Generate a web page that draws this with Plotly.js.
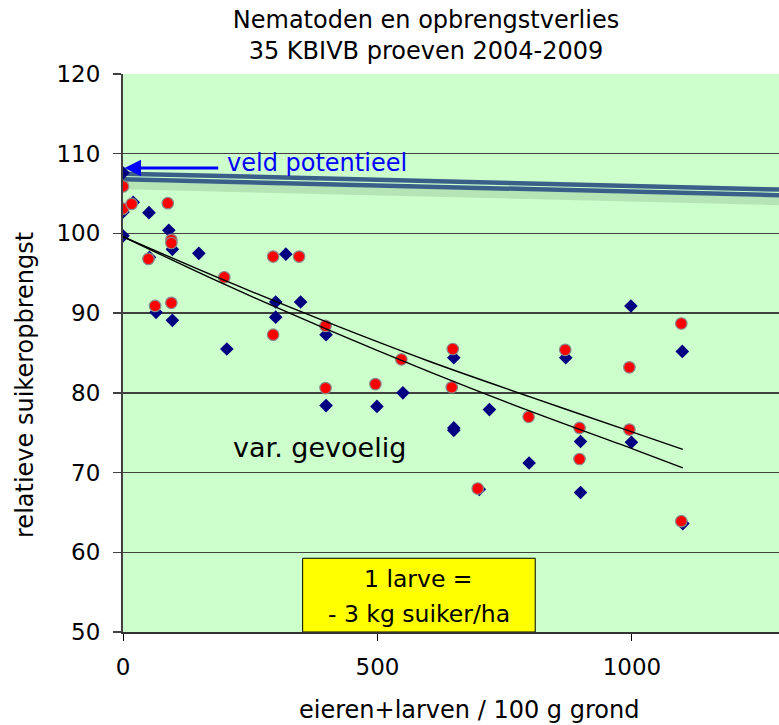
<!DOCTYPE html>
<html>
<head>
<meta charset="utf-8">
<script src="https://cdn.plot.ly/plotly-3.0.1.min.js"></script>
<style>
  html, body { margin: 0; padding: 0; background: #ffffff; }
  #chart { width: 779px; height: 725px; }
</style>
</head>
<body>
<div id="chart"></div>
<script>
// ---- data ----
// series 1: blue diamonds
const blueX = [0, 0, 0, 20, 51, 52, 65, 90, 97, 97, 149, 204, 300, 300, 320, 349, 399, 399, 499, 550, 650, 650, 650, 700, 720, 798, 870, 899, 899, 998, 999, 1099, 1100];
const blueY = [107.6, 102.7, 99.7, 103.9, 102.6, 97.0, 90.1, 100.4, 98.0, 89.1, 97.5, 85.5, 91.4, 89.5, 97.4, 91.4, 87.3, 78.4, 78.3, 80.0, 84.4, 75.6, 75.3, 67.9, 77.9, 71.2, 84.4, 73.9, 67.5, 90.9, 73.8, 85.2, 63.6];
// series 2: red circles
const redX = [0, 0, 17, 50, 63, 88, 95, 95, 95, 199, 295, 295, 346, 398, 398, 496, 547, 648, 646, 697, 797, 869, 897, 897, 995, 995, 1097, 1097];
const redY = [105.9, 103.1, 103.7, 96.8, 90.9, 103.8, 99.2, 98.8, 91.3, 94.5, 97.1, 87.3, 97.1, 88.4, 80.6, 81.1, 84.2, 85.5, 80.7, 68.0, 77.0, 85.4, 75.6, 71.7, 83.2, 75.4, 88.7, 63.9];
// trend lines
const trendX = [0, 200, 400, 600, 800, 1000, 1100];
const trend1Y = [99.6, 94.1, 88.9, 84.0, 79.5, 75.1, 72.9];
const trend2Y = [99.6, 93.6, 88.0, 82.7, 77.7, 73.0, 70.6];
// "veld potentieel" double line
const potX = [0, 1289];
const potUpperY = [107.5, 105.5];
const potLowerY = [106.8, 104.8];
// axis ticks
const yTicks = [50, 60, 70, 80, 90, 100, 110, 120];
const xTicks = [0, 500, 1000];
const xTickText = ['0', '500', '1000'];

const FONT = 'DejaVu Sans, Verdana, sans-serif';
const NB = '\u00a0';

const traces = [
  { // soft shadow under the potential lines
    x: potX, y: potLowerY.map(v => v - 0.75), mode: 'lines', hoverinfo: 'skip',
    line: { color: 'rgba(60,90,60,0.16)', width: 8 }, showlegend: false
  },
  {
    x: potX, y: potUpperY, mode: 'lines', name: 'veld potentieel boven',
    line: { color: '#3A5F88', width: 4.5 }, showlegend: false
  },
  {
    x: potX, y: potLowerY, mode: 'lines', name: 'veld potentieel onder',
    line: { color: '#3A5F88', width: 4.5 }, showlegend: false
  },
  {
    x: blueX, y: blueY, mode: 'markers', name: 'reeks 1',
    marker: { symbol: 'diamond', size: 10.5, color: '#000080', line: { width: 0 } },
    showlegend: false
  },
  {
    x: redX, y: redY, mode: 'markers', name: 'reeks 2',
    marker: { symbol: 'circle', size: 11.5, color: '#FF0000', line: { color: '#8a8a8a', width: 1.2 } },
    showlegend: false
  },
  {
    x: trendX, y: trend1Y, mode: 'lines', name: 'trend 1',
    line: { color: '#000000', width: 1.4, shape: 'spline', smoothing: 1 }, showlegend: false
  },
  {
    x: trendX, y: trend2Y, mode: 'lines', name: 'trend 2',
    line: { color: '#000000', width: 1.4, shape: 'spline', smoothing: 1 }, showlegend: false
  }
];

const layout = {
  width: 779, height: 725,
  margin: { l: 123, r: 0, t: 74, b: 93, pad: 0 },
  paper_bgcolor: '#ffffff',
  plot_bgcolor: '#CCFFCC',
  font: { family: FONT, color: '#000000', size: 23 },
  showlegend: false,
  title: {
    text: 'Nematoden en opbrengstverlies<br>35 KBIVB proeven 2004-2009',
    font: { family: FONT, size: 24, color: '#000000' },
    xref: 'container', x: 426 / 779, xanchor: 'center',
    yref: 'container', y: 1 - 28 / 725, yanchor: 'top'
  },
  xaxis: {
    range: [0, 1289],
    tickvals: xTicks, ticktext: xTickText,
    ticks: 'outside', ticklen: 7, tickwidth: 1, tickcolor: '#000000',
    ticklabelstandoff: 6,
    showgrid: false, zeroline: false,
    showline: true, linecolor: '#333333', linewidth: 2,
    tickfont: { family: FONT, size: 23, color: '#000000' }
  },
  yaxis: {
    range: [50, 120],
    tickvals: yTicks,
    ticks: 'outside', ticklen: 8, tickwidth: 1.5, tickcolor: '#404040',
    ticklabelstandoff: 8,
    showgrid: true, gridcolor: '#404040', gridwidth: 1.5,
    zeroline: false,
    showline: true, linecolor: '#404040', linewidth: 2,
    tickfont: { family: FONT, size: 23, color: '#000000' }
  },
  shapes: [
    {
      type: 'rect', xref: 'x', yref: 'y',
      x0: 353, x1: 810, y0: 50, y1: 59.25,
      fillcolor: '#FFFF00', line: { color: '#000000', width: 1 }, layer: 'above'
    }
  ],
  annotations: [
    { // x axis title
      xref: 'paper', yref: 'paper', x: 0.5267, y: -0.1398,
      xanchor: 'center', yanchor: 'middle', showarrow: false,
      text: 'eieren+larven / 100 g grond',
      font: { family: FONT, size: 24, color: '#000000' }
    },
    { // y axis title
      xref: 'paper', yref: 'paper', x: -0.1494, y: 0.4427,
      xanchor: 'center', yanchor: 'middle', showarrow: false, textangle: -90,
      text: 'relatieve suikeropbrengst',
      font: { family: FONT, size: 24, color: '#000000' }
    },
    {
      x: 3, y: 108.2, xref: 'x', yref: 'y',
      ax: 190, ay: 108.2, axref: 'x', ayref: 'y',
      text: '', showarrow: true, arrowhead: 2, arrowsize: 1.1,
      arrowwidth: 3, arrowcolor: '#0000FF'
    },
    {
      x: 200, y: 108.8, xref: 'x', yref: 'y', xanchor: 'left', yanchor: 'middle',
      text: 'veld potentieel', showarrow: false,
      font: { family: FONT, size: 24, color: '#0000FF' }
    },
    {
      x: 213, y: 73.2, xref: 'x', yref: 'y', xanchor: 'left', yanchor: 'middle',
      text: 'var. gevoelig', showarrow: false,
      font: { family: FONT, size: 27, color: '#000000' }
    },
    {
      x: 581, y: 56.6, xref: 'x', yref: 'y', xanchor: 'center', yanchor: 'middle',
      text: '1 larve =', showarrow: false,
      font: { family: FONT, size: 23.5, color: '#000000' }
    },
    {
      x: 581, y: 52.2, xref: 'x', yref: 'y', xanchor: 'center', yanchor: 'middle',
      text: '-' + NB + '3 kg suiker/ha', showarrow: false,
      font: { family: FONT, size: 23.5, color: '#000000' }
    }
  ]
};

Plotly.newPlot('chart', traces, layout, { staticPlot: true, displayModeBar: false });
</script>
</body>
</html>
